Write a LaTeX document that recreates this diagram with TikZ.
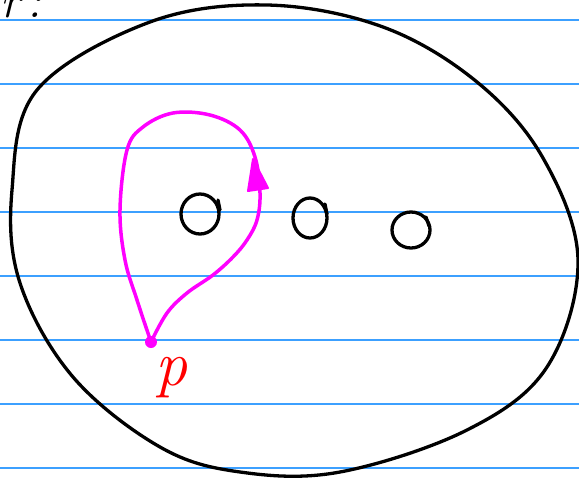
\documentclass[tikz,border=0pt]{standalone}
\usepackage{fontspec}
\definecolor{ruleblue}{RGB}{60,160,255}
\definecolor{loopmag}{RGB}{255,0,255}
\definecolor{labred}{RGB}{255,0,0}
\tikzset{
 ruling/.style={ruleblue, line width=1.3pt},
 ink/.style={black, line width=3.3pt, line cap=round, line join=round},
 loopink/.style={loopmag, line width=3.5pt, line cap=round, line join=round},
}
\begin{document}
\begin{tikzpicture}[x=1pt,y=-1pt]
\useasboundingbox[fill=white] (0,0) rectangle (579,480);
% ruled lines
\foreach \k in {0,...,7} \draw[ruling] (0,{20+64*\k}) -- (579,{20+64*\k});
% cropped text fragment top-left
\node[black, anchor=base west, inner sep=0pt] (frag) at (0,17) {\fontsize{48}{48}\selectfont\itshape r\,:};
% outer region
\draw[ink] plot[smooth cycle, tension=0.6] coordinates {
 (267,5) (383,27) (477,82) (543,158) (578,260) (547,367) (467,430)
 (340,472) (240,472) (160,447) (73,377) (20,283) (12,190) (37,90) (150,22)};
% holes
\draw[ink] (200,214) ellipse [x radius=19pt, y radius=20pt];
\draw[ink] (218,200) -- (220,210);
\draw[ink] (310,218) ellipse [x radius=17pt, y radius=20pt];
\draw[ink] (325,204) -- (327,214);
\draw[ink] (411,230) ellipse [x radius=19pt, y radius=18pt];
\draw[ink] (426,217) -- (429,226);
% loop based at p
\coordinate (p) at (151,342);
\draw[loopink] plot[smooth, tension=0.6] coordinates {
 (151,342) (167,313) (187,293) (213,275) (233,257) (247,240) (257,220)
 (260,193) (255,157) (240,130) (210,115) (173,113) (143,127) (127,150)
 (120,210) (125,260) (137,300) (151,342)};
\filldraw[loopink, line width=2pt] (253,159) -- (248,191) -- (268,188) -- cycle;
\fill[loopmag] (p) circle (6pt);
\node[labred, anchor=base, inner sep=0pt] (plabel) at (171,385) {\fontsize{64}{64}\selectfont\itshape p};
\end{tikzpicture}
\end{document}
